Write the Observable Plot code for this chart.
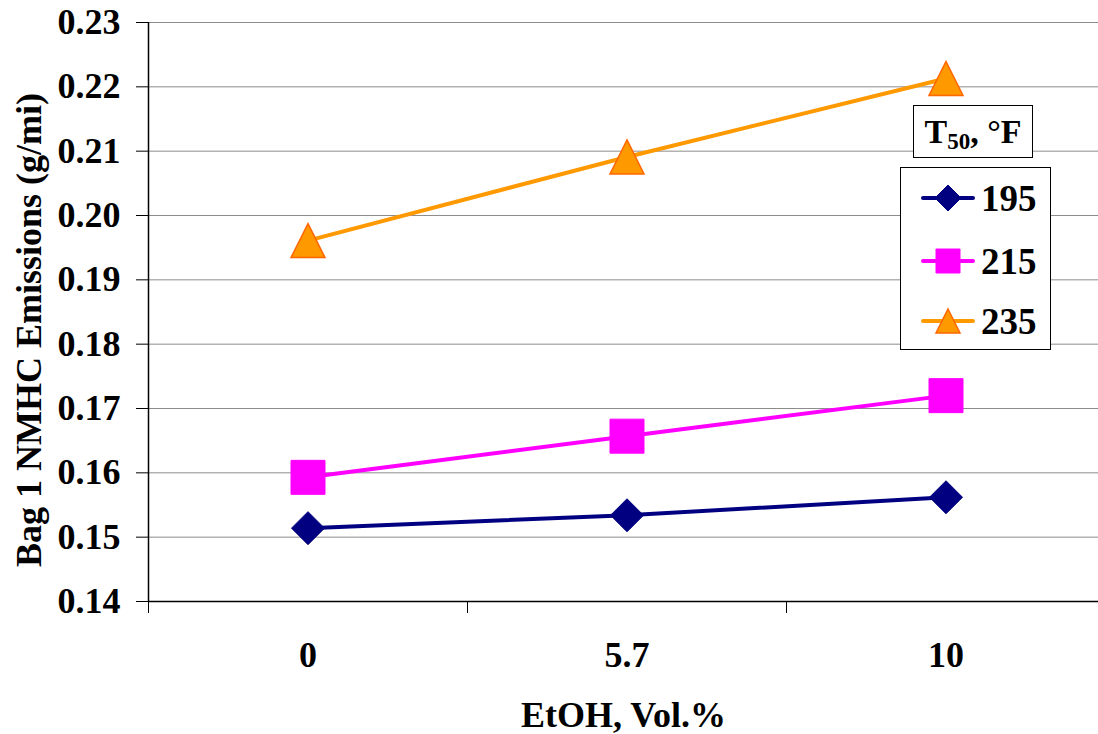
<!DOCTYPE html>
<html>
<head>
<meta charset="utf-8">
<script src="https://cdn.jsdelivr.net/npm/d3@7"></script>
<script src="https://cdn.jsdelivr.net/npm/@observablehq/plot@0.6"></script>
<style>
  html, body { margin: 0; padding: 0; background: #fff; }
  #wrap { position: relative; width: 1098px; height: 734px; font-family: "Liberation Serif", serif; font-weight: bold; }
  #wrap svg { display: block; }
  .box { position: absolute; background: #fff; border: 1px solid #000; box-sizing: border-box; }
</style>
</head>
<body>
<div id="wrap"></div>
<script>
const categories = ["0", "5.7", "10"];
const seriesNames = ["195", "215", "235"];
const values195 = [0.1514, 0.1534, 0.1562];
const values215 = [0.1593, 0.1657, 0.1720];
const values235 = [0.1961, 0.2091, 0.2213];
const yTicks = [0.14, 0.15, 0.16, 0.17, 0.18, 0.19, 0.20, 0.21, 0.22, 0.23];
const colors = ["#000080", "#FF00FF", "#FF9900"];
const xTitle = "EtOH, Vol.%";
const yTitle = "Bag 1 NMHC Emissions (g/mi)";

const seriesValues = [values195, values215, values235];
const data = [];
seriesNames.forEach((s, k) => seriesValues[k].forEach((v, i) => data.push({series: s, i, cat: categories[i], v})));

// custom symbols matching Excel markers
const diamondSym = { draw(ctx, size) { const r = Math.sqrt(size) / 2; ctx.moveTo(0, -r); ctx.lineTo(r, 0); ctx.lineTo(0, r); ctx.lineTo(-r, 0); ctx.closePath(); } };
const squareSym = { draw(ctx, size) { const r = Math.sqrt(size) / 2; ctx.rect(-r, -r, 2 * r, 2 * r); } };
const triangleSym = { draw(ctx, size) { const r = Math.sqrt(size) / 2; ctx.moveTo(0, -r); ctx.lineTo(r, r); ctx.lineTo(-r, r); ctx.closePath(); } };
const symbols = [diamondSym, squareSym, triangleSym];
const markerSide = [33, 34, 34];
const rFor = (side) => Math.sqrt(side * side / Math.PI);

const bounds = [-0.5, 0.5, 1.5];
const catIdx = categories.map((_, i) => i);
const FF = "Liberation Serif";
const FS = 36;

const marks = [
  Plot.ruleY(yTicks.filter(t => t > 0.14), {stroke: "#8c8c8c", strokeWidth: 1}),
  Plot.axisY({ticks: yTicks, tickSize: 12, tickPadding: 16, tickFormat: d3.format(".2f"), fontSize: FS, fontFamily: FF, fontWeight: "bold", label: null, stroke: "#000"}),
  Plot.axisX({ticks: bounds, tickSize: 12, tickFormat: () => "", label: null}),
  Plot.axisX({ticks: catIdx, tickSize: 0, tickPadding: 40, tickFormat: i => categories[i], fontSize: FS, fontFamily: FF, fontWeight: "bold", label: null}),
  Plot.ruleY([0.14], {stroke: "#000", strokeWidth: 1.5}),
  Plot.ruleX([-0.5], {y1: 0.14, y2: 0.23, stroke: "#000", strokeWidth: 1.5}),
  Plot.line(data, {x: "i", y: "v", z: "series", stroke: "series", strokeWidth: 4})
];
seriesNames.forEach((s, k) => {
  marks.push(Plot.dot(data.filter(d => d.series === s), {
    x: "i", y: "v", symbol: () => symbols[k], r: rFor(markerSide[k]),
    fill: colors[k], stroke: k === 2 ? "#FF6600" : colors[k], strokeWidth: k === 2 ? 1.5 : 1
  }));
});
marks.push(Plot.text([xTitle], {frameAnchor: "bottom", textAnchor: "middle", dy: 114, fontSize: FS, fontFamily: FF, fontWeight: "bold", lineAnchor: "middle"}));
marks.push(Plot.text([yTitle], {frameAnchor: "left", textAnchor: "middle", dx: -119, dy: 18, rotate: -90, fontSize: FS, fontFamily: FF, fontWeight: "bold", lineAnchor: "middle"}));

const chart = Plot.plot({
  width: 1098, height: 734,
  marginLeft: 148, marginRight: 0, marginTop: 22, marginBottom: 133,
  x: {domain: [-0.5, 2.5], range: [148, 1105]},
  y: {domain: [0.14, 0.23], range: [601, 22]},
  color: {domain: seriesNames, range: colors},
  style: {fontFamily: FF, fontWeight: "bold", color: "#000", background: "#fff", overflow: "hidden"},
  marks
});
const wrap = document.getElementById("wrap");
wrap.appendChild(chart);

// Legend title box
const tbox = document.createElement("div");
tbox.className = "box";
Object.assign(tbox.style, {left: "913px", top: "105px", width: "120px", height: "53px", fontSize: "34px", lineHeight: "51px", textAlign: "center", whiteSpace: "nowrap"});
tbox.innerHTML = "T<sub style='font-size:23px;vertical-align:-6px'>50</sub>, °F";
wrap.appendChild(tbox);

// Legend box
const lbox = document.createElement("div");
lbox.className = "box";
Object.assign(lbox.style, {left: "900px", top: "167px", width: "151px", height: "183px"});
wrap.appendChild(lbox);
const lsvg = d3.select(lbox).append("svg").attr("width", 149).attr("height", 181).style("position", "absolute").style("left", 0).style("top", 0);
const rowY = [30, 93, 153];
seriesNames.forEach((s, k) => {
  const g = lsvg.append("g").attr("transform", `translate(0,${rowY[k]})`);
  g.append("line").attr("x1", 22).attr("x2", 72).attr("y1", 0).attr("y2", 0).attr("stroke", colors[k]).attr("stroke-width", 4).attr("stroke-linecap", "round");
  const side = k === 0 ? 26 : 24;
  g.append("path").attr("transform", "translate(47,0)").attr("d", d3.symbol(symbols[k], side * side)())
    .attr("fill", colors[k]).attr("stroke", k === 2 ? "#FF6600" : colors[k]).attr("stroke-width", k === 2 ? 1.5 : 1);
  g.append("text").attr("x", 80).attr("y", 0).attr("dy", "0.35em").attr("font-size", 37)
    .attr("font-family", FF).attr("font-weight", "bold").text(s);
});
</script>
</body>
</html>
